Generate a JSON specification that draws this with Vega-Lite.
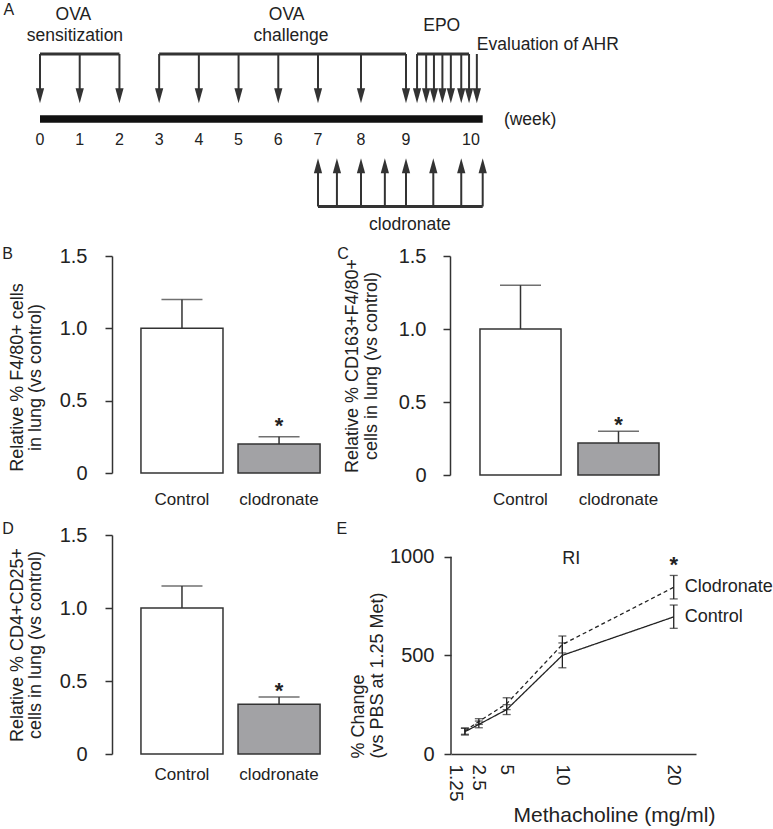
{
  "$schema": "https://vega.github.io/schema/vega-lite/v6.json",
  "padding": {"left": 2, "top": 0, "right": 0, "bottom": 0},
  "background": "white",
  "spacing": 11,
  "config": {
    "font": "Liberation Sans",
    "view": {"stroke": null},
    "axis": {"grid": false, "domainColor": "#333", "domainWidth": 1.5, "tickColor": "#333", "tickWidth": 1.5, "labelColor": "#222", "titleColor": "#222", "titleFontWeight": "normal", "labelFont": "Liberation Sans", "titleFont": "Liberation Sans"},
    "title": {"fontSize": 16, "fontWeight": "normal", "anchor": "start", "frame": "bounds", "offset": 0, "baseline": "bottom", "color": "#222", "font": "Liberation Sans"},
    "text": {"font": "Liberation Sans", "color": "#222"}
  },
  "datasets": {
    "phases": [
      {"phase": "OVA sensitization", "start": 0, "end": 2},
      {"phase": "OVA challenge", "start": 3, "end": 9},
      {"phase": "EPO", "start": 9.17, "end": 9.97},
      {"phase": "clodronate", "start": 7, "end": 10.18}
    ],
    "events": [
      {"week": 0, "event": "OVA sensitization", "dir": "down"},
      {"week": 1, "event": "OVA sensitization", "dir": "down"},
      {"week": 2, "event": "OVA sensitization", "dir": "down"},
      {"week": 3, "event": "OVA challenge", "dir": "down"},
      {"week": 4, "event": "OVA challenge", "dir": "down"},
      {"week": 5, "event": "OVA challenge", "dir": "down"},
      {"week": 6, "event": "OVA challenge", "dir": "down"},
      {"week": 7, "event": "OVA challenge", "dir": "down"},
      {"week": 8, "event": "OVA challenge", "dir": "down"},
      {"week": 9, "event": "OVA challenge", "dir": "down"},
      {"week": 9.17, "event": "EPO", "dir": "down"},
      {"week": 9.31, "event": "EPO", "dir": "down"},
      {"week": 9.43, "event": "EPO", "dir": "down"},
      {"week": 9.56, "event": "EPO", "dir": "down"},
      {"week": 9.69, "event": "EPO", "dir": "down"},
      {"week": 9.85, "event": "EPO", "dir": "down"},
      {"week": 9.97, "event": "EPO", "dir": "down"},
      {"week": 10.09, "event": "Evaluation of AHR", "dir": "down"},
      {"week": 7, "event": "clodronate", "dir": "up"},
      {"week": 7.44, "event": "clodronate", "dir": "up"},
      {"week": 8, "event": "clodronate", "dir": "up"},
      {"week": 8.53, "event": "clodronate", "dir": "up"},
      {"week": 9, "event": "clodronate", "dir": "up"},
      {"week": 9.42, "event": "clodronate", "dir": "up"},
      {"week": 9.85, "event": "clodronate", "dir": "up"},
      {"week": 10.18, "event": "clodronate", "dir": "up"}
    ],
    "weeks": [
      {"week": 0}, {"week": 1}, {"week": 2}, {"week": 3}, {"week": 4}, {"week": 5},
      {"week": 6}, {"week": 7}, {"week": 8}, {"week": 9}, {"week": 10}
    ],
    "labelsA": [
      {"text": "OVA", "week": 0.84, "level": 14.7},
      {"text": "sensitization", "week": 0.88, "level": 36.4},
      {"text": "OVA", "week": 6.21, "level": 14.7},
      {"text": "challenge", "week": 6.32, "level": 36.4},
      {"text": "EPO", "week": 9.55, "level": 26.4},
      {"text": "(week)", "week": 10.91, "level": 119.7},
      {"text": "clodronate", "week": 9.06, "level": 224.7}
    ],
    "panelB": [
      {"group": "Control", "value": 1.0, "upper": 1.2},
      {"group": "clodronate", "value": 0.2, "upper": 0.25, "sig": "*"}
    ],
    "panelC": [
      {"group": "Control", "value": 1.0, "upper": 1.3},
      {"group": "clodronate", "value": 0.22, "upper": 0.3, "sig": "*"}
    ],
    "panelD": [
      {"group": "Control", "value": 1.0, "upper": 1.15},
      {"group": "clodronate", "value": 0.34, "upper": 0.39, "sig": "*"}
    ],
    "panelE": [
      {"series": "Control", "dose": 1.25, "value": 113, "lo": 96, "hi": 130},
      {"series": "Control", "dose": 2.5, "value": 150, "lo": 133, "hi": 167},
      {"series": "Control", "dose": 5, "value": 225, "lo": 200, "hi": 250},
      {"series": "Control", "dose": 10, "value": 500, "lo": 437, "hi": 563},
      {"series": "Control", "dose": 20, "value": 695, "lo": 637, "hi": 755},
      {"series": "Clodronate", "dose": 1.25, "value": 117, "lo": 100, "hi": 132},
      {"series": "Clodronate", "dose": 2.5, "value": 165, "lo": 150, "hi": 179},
      {"series": "Clodronate", "dose": 5, "value": 255, "lo": 225, "hi": 285},
      {"series": "Clodronate", "dose": 10, "value": 555, "lo": 512, "hi": 598},
      {"series": "Clodronate", "dose": 20, "value": 845, "lo": 786, "hi": 905, "sig": "*"}
    ]
  },
  "vconcat": [
    {
      "width": 424,
      "height": 232,
      "layer": [
        {
          "data": {"name": "phases"},
          "transform": [{"filter": "datum.phase != 'clodronate'"}],
          "mark": {"type": "rule", "color": "#333", "strokeWidth": 3},
          "encoding": {
            "x": {"field": "start", "type": "quantitative", "scale": {"domain": [-1, 0, 7, 8, 9, 10, 11], "range": [-112, -72, 206, 249, 294, 359, 424], "nice": false, "zero": false}, "axis": null},
            "x2": {"field": "end"},
            "y": {"datum": 54, "type": "quantitative", "scale": {"domain": [0, 232], "range": [0, 232], "nice": false, "zero": false}, "axis": null}
          }
        },
        {
          "data": {"name": "phases"},
          "transform": [{"filter": "datum.phase == 'clodronate'"}],
          "mark": {"type": "rule", "color": "#333", "strokeWidth": 3},
          "encoding": {
            "x": {"field": "start", "type": "quantitative", "axis": null},
            "x2": {"field": "end"},
            "y": {"datum": 206.5, "type": "quantitative", "axis": null}
          }
        },
        {
          "data": {"name": "events"},
          "transform": [{"filter": "datum.dir == 'down'"}],
          "mark": {"type": "rule", "color": "#333", "strokeWidth": 2},
          "encoding": {
            "x": {"field": "week", "type": "quantitative", "axis": null},
            "y": {"datum": 54, "type": "quantitative", "axis": null},
            "y2": {"datum": 90}
          }
        },
        {
          "data": {"name": "events"},
          "transform": [{"filter": "datum.dir == 'down'"}],
          "mark": {"type": "point", "shape": "M-0.55,-1L0.55,-1L0,1Z", "size": 225, "filled": true, "color": "#333", "opacity": 1, "strokeWidth": 0},
          "encoding": {
            "x": {"field": "week", "type": "quantitative", "axis": null},
            "y": {"datum": 95.8, "type": "quantitative", "axis": null}
          }
        },
        {
          "data": {"name": "events"},
          "transform": [{"filter": "datum.dir == 'up'"}],
          "mark": {"type": "rule", "color": "#333", "strokeWidth": 2},
          "encoding": {
            "x": {"field": "week", "type": "quantitative", "axis": null},
            "y": {"datum": 206.5, "type": "quantitative", "axis": null},
            "y2": {"datum": 171}
          }
        },
        {
          "data": {"name": "events"},
          "transform": [{"filter": "datum.dir == 'up'"}],
          "mark": {"type": "point", "shape": "M-0.55,1L0.55,1L0,-1Z", "size": 225, "filled": true, "color": "#333", "opacity": 1, "strokeWidth": 0},
          "encoding": {
            "x": {"field": "week", "type": "quantitative", "axis": null},
            "y": {"datum": 165.8, "type": "quantitative", "axis": null}
          }
        },
        {
          "data": {"values": [{}]},
          "mark": {"type": "rule", "color": "#111", "strokeWidth": 7.5},
          "encoding": {
            "x": {"datum": 0, "type": "quantitative", "axis": null},
            "x2": {"datum": 10.18},
            "y": {"datum": 119, "type": "quantitative", "axis": null}
          }
        },
        {
          "data": {"name": "weeks"},
          "mark": {"type": "text", "fontSize": 16, "baseline": "middle", "align": "center"},
          "encoding": {
            "x": {"field": "week", "type": "quantitative", "axis": null},
            "y": {"datum": 140.2, "type": "quantitative", "axis": null},
            "text": {"field": "week", "type": "nominal"}
          }
        },
        {
          "data": {"name": "labelsA"},
          "mark": {"type": "text", "fontSize": 17.5, "baseline": "middle", "align": "center"},
          "encoding": {
            "x": {"field": "week", "type": "quantitative", "axis": null},
            "y": {"field": "level", "type": "quantitative", "axis": null},
            "text": {"field": "text", "type": "nominal"}
          }
        },
        {
          "data": {"values": [{}]},
          "mark": {"type": "text", "text": "Evaluation of AHR", "fontSize": 17.5, "baseline": "middle", "align": "left"},
          "encoding": {
            "x": {"datum": 10.09, "type": "quantitative", "axis": null},
            "y": {"datum": 44.7, "type": "quantitative", "axis": null}
          }
        },
        {
          "data": {"values": [{}]},
          "mark": {"type": "text", "text": "A", "fontSize": 16, "baseline": "middle", "align": "center"},
          "encoding": {
            "x": {"datum": -0.78, "type": "quantitative", "axis": null},
            "y": {"datum": 10.2, "type": "quantitative", "axis": null}
          }
        }
      ]
    },
    {
      "spacing": 13,
      "vconcat": [
        {
          "spacing": 9,
          "hconcat": [
            {
              "title": {"text": "B", "dx": -6, "dy": 19.5},
              "width": 216,
              "height": 217,
              "data": {"name": "panelB"},
              "layer": [
                {
                  "mark": {"type": "bar", "stroke": "#333", "strokeWidth": 1.5},
                  "encoding": {
                    "x": {"field": "group", "type": "nominal", "sort": ["Control", "clodronate"], "scale": {"paddingInner": 0.155, "paddingOuter": 0.19, "align": 0.785}, "axis": {"title": null, "labelAngle": 0, "domain": false, "ticks": false, "tickSize": 0, "labelFontSize": 17, "labelPadding": 18}},
                    "y": {"field": "value", "type": "quantitative", "scale": {"domain": [0, 1.5], "nice": false}, "axis": {"values": [0, 0.5, 1, 1.5], "labelExpr": "datum.value == 0 ? '0' : format(datum.value, '.1f')", "tickSize": 7, "labelFontSize": 20, "labelPadding": 18, "title": ["Relative % F4/80+ cells", "in lung (vs control)"], "titleFontSize": 18, "titleLineHeight": 18, "titlePadding": 15, "titleY": 121}},
                    "fill": {"field": "group", "type": "nominal", "scale": {"domain": ["Control", "clodronate"], "range": ["#ffffff", "#a2a2a5"]}, "legend": null}
                  }
                },
                {
                  "mark": {"type": "rule", "color": "#333", "strokeWidth": 1.5},
                  "encoding": {
                    "x": {"field": "group", "type": "nominal", "sort": ["Control", "clodronate"]},
                    "y": {"field": "value", "type": "quantitative"},
                    "y2": {"field": "upper"}
                  }
                },
                {
                  "mark": {"type": "tick", "color": "#333", "size": 41, "thickness": 1.5},
                  "encoding": {
                    "x": {"field": "group", "type": "nominal", "sort": ["Control", "clodronate"]},
                    "y": {"field": "upper", "type": "quantitative"}
                  }
                },
                {
                  "transform": [{"filter": "datum.sig"}],
                  "mark": {"type": "text", "fontSize": 22, "fontWeight": "bold", "baseline": "alphabetic", "dy": -4},
                  "encoding": {
                    "x": {"field": "group", "type": "nominal", "sort": ["Control", "clodronate"]},
                    "y": {"field": "upper", "type": "quantitative"},
                    "text": {"field": "sig", "type": "nominal"}
                  }
                }
              ]
            },
            {
              "title": {"text": "C", "dx": -6, "dy": 19.5},
              "width": 219,
              "height": 219,
              "data": {"name": "panelC"},
              "layer": [
                {
                  "mark": {"type": "bar", "stroke": "#333", "strokeWidth": 1.5},
                  "encoding": {
                    "x": {"field": "group", "type": "nominal", "sort": ["Control", "clodronate"], "scale": {"paddingInner": 0.173, "paddingOuter": 0.204, "align": 0.75}, "axis": {"title": null, "labelAngle": 0, "domain": false, "ticks": false, "tickSize": 0, "labelFontSize": 17, "labelPadding": 16}},
                    "y": {"field": "value", "type": "quantitative", "scale": {"domain": [0, 1.5], "nice": false}, "axis": {"values": [0, 0.5, 1, 1.5], "labelExpr": "datum.value == 0 ? '0' : format(datum.value, '.1f')", "tickSize": 7, "labelFontSize": 20, "labelPadding": 17, "title": ["Relative % CD163+F4/80+", "cells in lung (vs control)"], "titleFontSize": 18, "titleLineHeight": 19, "titlePadding": 18}},
                    "fill": {"field": "group", "type": "nominal", "scale": {"domain": ["Control", "clodronate"], "range": ["#ffffff", "#a2a2a5"]}, "legend": null}
                  }
                },
                {
                  "mark": {"type": "rule", "color": "#333", "strokeWidth": 1.5},
                  "encoding": {
                    "x": {"field": "group", "type": "nominal", "sort": ["Control", "clodronate"]},
                    "y": {"field": "value", "type": "quantitative"},
                    "y2": {"field": "upper"}
                  }
                },
                {
                  "mark": {"type": "tick", "color": "#333", "size": 41, "thickness": 1.5},
                  "encoding": {
                    "x": {"field": "group", "type": "nominal", "sort": ["Control", "clodronate"]},
                    "y": {"field": "upper", "type": "quantitative"}
                  }
                },
                {
                  "transform": [{"filter": "datum.sig"}],
                  "mark": {"type": "text", "fontSize": 22, "fontWeight": "bold", "baseline": "alphabetic", "dy": 1},
                  "encoding": {
                    "x": {"field": "group", "type": "nominal", "sort": ["Control", "clodronate"]},
                    "y": {"field": "upper", "type": "quantitative"},
                    "text": {"field": "sig", "type": "nominal"}
                  }
                }
              ]
            }
          ]
        },
        {
          "spacing": 8,
          "hconcat": [
            {
              "title": {"text": "D", "dx": -6, "dy": 15.5},
              "width": 216,
              "height": 219,
              "data": {"name": "panelD"},
              "layer": [
                {
                  "mark": {"type": "bar", "stroke": "#333", "strokeWidth": 1.5},
                  "encoding": {
                    "x": {"field": "group", "type": "nominal", "sort": ["Control", "clodronate"], "scale": {"paddingInner": 0.155, "paddingOuter": 0.19, "align": 0.785}, "axis": {"title": null, "labelAngle": 0, "domain": false, "ticks": false, "tickSize": 0, "labelFontSize": 17, "labelPadding": 12}},
                    "y": {"field": "value", "type": "quantitative", "scale": {"domain": [0, 1.5], "nice": false}, "axis": {"values": [0, 0.5, 1, 1.5], "labelExpr": "datum.value == 0 ? '0' : format(datum.value, '.1f')", "tickSize": 7, "labelFontSize": 20, "labelPadding": 18, "title": ["Relative % CD4+CD25+", "cells in lung (vs control)"], "titleFontSize": 18, "titleLineHeight": 18, "titlePadding": 15}},
                    "fill": {"field": "group", "type": "nominal", "scale": {"domain": ["Control", "clodronate"], "range": ["#ffffff", "#a2a2a5"]}, "legend": null}
                  }
                },
                {
                  "mark": {"type": "rule", "color": "#333", "strokeWidth": 1.5},
                  "encoding": {
                    "x": {"field": "group", "type": "nominal", "sort": ["Control", "clodronate"]},
                    "y": {"field": "value", "type": "quantitative"},
                    "y2": {"field": "upper"}
                  }
                },
                {
                  "mark": {"type": "tick", "color": "#333", "size": 41, "thickness": 1.5},
                  "encoding": {
                    "x": {"field": "group", "type": "nominal", "sort": ["Control", "clodronate"]},
                    "y": {"field": "upper", "type": "quantitative"}
                  }
                },
                {
                  "transform": [{"filter": "datum.sig"}],
                  "mark": {"type": "text", "fontSize": 22, "fontWeight": "bold", "baseline": "alphabetic", "dy": 1},
                  "encoding": {
                    "x": {"field": "group", "type": "nominal", "sort": ["Control", "clodronate"]},
                    "y": {"field": "upper", "type": "quantitative"},
                    "text": {"field": "sig", "type": "nominal"}
                  }
                }
              ]
            },
            {
              "title": {"text": "E", "dx": -13, "dy": 5.5},
              "width": 245,
              "height": 219,
              "data": {"name": "panelE"},
              "layer": [
                {
                  "mark": {"type": "line", "color": "#222", "strokeWidth": 1.3},
                  "encoding": {
                    "x": {"field": "dose", "type": "quantitative", "scale": {"domain": [0, 22], "nice": false, "zero": false}, "axis": {"values": [1.25, 2.5, 5, 10, 20], "labelExpr": "'' + datum.value", "labelAngle": 90, "labelBaseline": {"condition": {"test": "datum.value == 1.25", "value": "top"}, "value": "middle"}, "labelFontSize": 19, "labelOverlap": false, "labelPadding": 10, "ticks": false, "tickSize": 0, "title": "Methacholine (mg/ml)", "titleFontSize": 21, "titlePadding": 4, "titleX": 163}},
                    "y": {"field": "value", "type": "quantitative", "scale": {"domain": [0, 1110], "nice": false}, "axis": {"values": [0, 500, 1000], "format": "d", "domain": false, "tickSize": 7, "labelFontSize": 20, "labelPadding": 10, "title": ["% Change", "(vs PBS at 1.25 Met)"], "titleFontSize": 18, "titleLineHeight": 19, "titlePadding": 3, "titleAlign": "left", "titleY": 223}},
                    "strokeDash": {"field": "series", "type": "nominal", "scale": {"domain": ["Control", "Clodronate"], "range": [[1, 0], [4, 3]]}, "legend": null}
                  }
                },
                {
                  "data": {"values": [{}]},
                  "mark": {"type": "rule", "color": "#333", "strokeWidth": 1.5},
                  "encoding": {
                    "x": {"datum": 0, "type": "quantitative"},
                    "y": {"datum": 0, "type": "quantitative"},
                    "y2": {"datum": 1000}
                  }
                },
                {
                  "mark": {"type": "rule", "color": "#222", "strokeWidth": 1.3},
                  "encoding": {
                    "x": {"field": "dose", "type": "quantitative"},
                    "y": {"field": "lo", "type": "quantitative"},
                    "y2": {"field": "hi"}
                  }
                },
                {
                  "mark": {"type": "tick", "orient": "horizontal", "color": "#222", "size": 8, "thickness": 1.3},
                  "encoding": {
                    "x": {"field": "dose", "type": "quantitative"},
                    "y": {"field": "lo", "type": "quantitative"}
                  }
                },
                {
                  "mark": {"type": "tick", "orient": "horizontal", "color": "#222", "size": 8, "thickness": 1.3},
                  "encoding": {
                    "x": {"field": "dose", "type": "quantitative"},
                    "y": {"field": "hi", "type": "quantitative"}
                  }
                },
                {
                  "transform": [{"filter": "datum.dose == 20"}],
                  "mark": {"type": "text", "align": "left", "baseline": "middle", "dx": 11, "fontSize": 18},
                  "encoding": {
                    "x": {"field": "dose", "type": "quantitative"},
                    "y": {"field": "value", "type": "quantitative"},
                    "text": {"field": "series", "type": "nominal"}
                  }
                },
                {
                  "transform": [{"filter": "datum.sig"}],
                  "mark": {"type": "text", "fontSize": 22, "fontWeight": "bold", "baseline": "alphabetic", "dy": -3},
                  "encoding": {
                    "x": {"field": "dose", "type": "quantitative"},
                    "y": {"field": "hi", "type": "quantitative"},
                    "text": {"field": "sig", "type": "nominal"}
                  }
                },
                {
                  "data": {"values": [{}]},
                  "mark": {"type": "text", "text": "RI", "fontSize": 18, "baseline": "middle", "align": "center"},
                  "encoding": {
                    "x": {"datum": 10.8, "type": "quantitative"},
                    "y": {"datum": 988, "type": "quantitative"}
                  }
                }
              ]
            }
          ]
        }
      ]
    }
  ]
}
